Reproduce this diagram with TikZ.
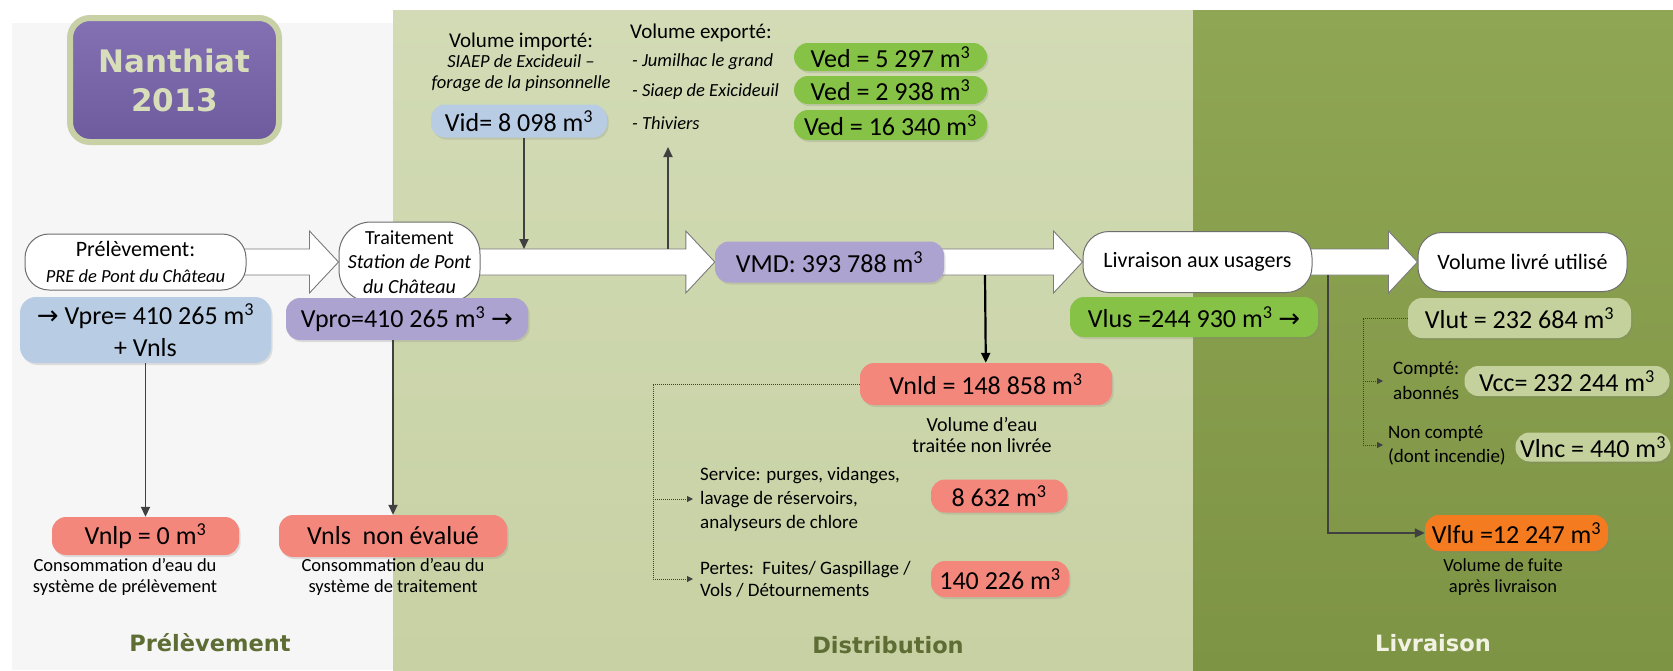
\documentclass[tikz,border=0pt]{standalone}
\usepackage{fontspec}
\setmainfont{Carlito}
\newfontfamily\headfont{DejaVu Sans}
\usetikzlibrary{calc, arrows.meta, shadows}

\definecolor{panelgray}{HTML}{F6F6F6}
\definecolor{distlight}{HTML}{D2DBB5}
\definecolor{distdark}{HTML}{C7D1A3}
\definecolor{livlight}{HTML}{8FA654}
\definecolor{livdark}{HTML}{7E9445}
\definecolor{titletop}{HTML}{8371B3}
\definecolor{titlebottom}{HTML}{6E5B9E}
\definecolor{titleedge}{HTML}{C8D0A6}
\definecolor{titletext}{HTML}{D8DDBA}
\definecolor{volblue}{HTML}{B8CCE4}
\definecolor{volpurple}{HTML}{ADA3D0}
\definecolor{volred}{HTML}{F4877C}
\definecolor{volgreen}{HTML}{86C246}
\definecolor{volpale}{HTML}{C4D19C}
\definecolor{volorange}{HTML}{F47B20}
\definecolor{labelolive}{HTML}{5E6D34}
\definecolor{zonelight}{HTML}{F2F2E4}
\definecolor{linegray}{HTML}{404040}
\definecolor{stageedge}{HTML}{6E6E6E}
\definecolor{pipeedge}{HTML}{7A7A7A}

\pgfdeclarelayer{panels}
\pgfdeclarelayer{pipes}
\pgfsetlayers{panels,pipes,main}

\newcommand{\mcube}{m\textsuperscript{3}}
\newcommand{\arr}{{\headfont →}}
\newcommand{\pipe}[2]{%
    \path[pipearrow] let \p1=(#1.east), \p2=(#2.west) in
        (\x1-8pt,\y1+13pt) -- (\x2-29pt,\y1+13pt) -- (\x2-29pt,\y1+31pt) -- (\x2,\y1)
        -- (\x2-29pt,\y1-31pt) -- (\x2-29pt,\y1-13pt) -- (\x1-8pt,\y1-13pt) -- cycle;}

\tikzset{
    stage/.style={draw=stageedge, fill=white, line width=1pt, rounded corners=24pt, inner sep=0pt, align=center, font=\fontsize{22}{26}\selectfont},
    vol/.style={rounded corners=14pt, inner sep=0pt, align=center, font=\fontsize{26}{31}\selectfont, drop shadow={opacity=0.22, shadow xshift=1.5pt, shadow yshift=-2pt}},
    blue vol/.style={vol, fill=volblue},
    purple vol/.style={vol, fill=volpurple},
    red vol/.style={vol, fill=volred},
    green vol/.style={vol, fill=volgreen},
    pale vol/.style={vol, fill=volpale},
    orange vol/.style={vol, fill=volorange},
    note/.style={inner sep=0pt, align=center, font=\fontsize{18.5}{21}\selectfont},
    side/.style={inner sep=0pt, align=left, anchor=west, font=\fontsize{19}{24}\selectfont},
    zone/.style={inner sep=0pt, font=\headfont\bfseries\fontsize{22.5}{26}\selectfont},
    flow/.style={draw=linegray, line width=1.8pt, -{Triangle[length=10pt,width=9pt]}},
    dotline/.style={draw=linegray, line width=1pt, densely dotted},
    dotflow/.style={dotline, -{Triangle[length=6pt,width=6pt]}},
    pipearrow/.style={draw=pipeedge, fill=white, line width=0.9pt}
}

\begin{document}
\begin{tikzpicture}[x=1pt, y=-1pt]
    \useasboundingbox (0,0) rectangle (1673,670);
    \begin{pgfonlayer}{panels}
        \fill[white] (0,0) rectangle (1673,670);
        \fill[panelgray] (12,23) rectangle (393,670);
        \shade[top color=distlight, bottom color=distdark] (393,10) rectangle (1193,670);
        \shade[top color=livlight, bottom color=livdark] (1193,10) rectangle (1673,670);
    \end{pgfonlayer}

    \node[draw=titleedge, line width=6pt, top color=titletop, bottom color=titlebottom, rounded corners=20pt, minimum width=209pt, minimum height=124pt, inner sep=0pt, align=center, text=titletext, font=\headfont\bfseries\fontsize{31}{39}\selectfont] (title) at (174.5,80) {Nanthiat\\2013};

    \node[stage, minimum width=221pt, minimum height=56pt] (pre) at (135.5,262) {Prélèvement:\\{\fontsize{18.5}{22}\selectfont\itshape PRE de Pont du Château}};
    \node[stage, rounded corners=32pt, minimum width=141pt, minimum height=80pt, font=\fontsize{20}{24.5}\selectfont] (trait) at (409.5,262) {Traitement\\\textit{Station de Pont}\\\textit{du Château}};
    \node[purple vol, minimum width=229pt, minimum height=41pt] (vmd) at (829.5,262) {VMD: 393 788 \mcube};
    \node[stage, rounded corners=26pt, minimum width=229pt, minimum height=61pt] (liv) at (1197.5,262) {Livraison aux usagers};
    \node[stage, minimum width=209pt, minimum height=59pt] (vlu) at (1522.5,262) {Volume livré utilisé};

    \begin{pgfonlayer}{pipes}
        \pipe{pre}{trait}
        \pipe{trait}{vmd}
        \pipe{vmd}{liv}
        \pipe{liv}{vlu}
    \end{pgfonlayer}

    \node[blue vol, rounded corners=16pt, minimum width=251pt, minimum height=66pt, font=\fontsize{26}{32}\selectfont] (vpre) at (145.5,330) {\arr\ Vpre= 410 265 \mcube\\+ Vnls};
    \node[purple vol, minimum width=242pt, minimum height=42pt] (vpro) at (407,319) {Vpro=410 265 \mcube\ \arr};
    \node[red vol, minimum width=187pt, minimum height=38pt] (vnlp) at (145.5,536) {Vnlp = 0 \mcube};
    \node[note] (nlplbl) at (125,577) {Consommation d’eau du\\système de prélèvement};
    \node[red vol, minimum width=228pt, minimum height=42pt] (vnls) at (393,536) {Vnls\ \ non évalué};
    \node[note] (nlslbl) at (393,577) {Consommation d’eau du\\système de traitement};

    \node[note, font=\fontsize{21}{20.5}\selectfont] (implbl) at (521,62) {Volume importé:\\{\fontsize{18.5}{20.5}\selectfont\itshape SIAEP de Excideuil –}\\{\fontsize{18.5}{20.5}\selectfont\itshape forage de la pinsonnelle}};
    \node[blue vol, minimum width=176pt, minimum height=33pt] (vid) at (519,121) {Vid= 8 098 \mcube};
    \node[side, font=\fontsize{21}{24}\selectfont] (explbl) at (630,33) {Volume exporté:};
    \node[side, font=\fontsize{18.5}{22}\selectfont\itshape] (exp1) at (632,62) {- Jumilhac le grand};
    \node[side, font=\fontsize{18.5}{22}\selectfont\itshape] (exp2) at (632,92) {- Siaep de Exicideuil};
    \node[side, font=\fontsize{18.5}{22}\selectfont\itshape] (exp3) at (632,123) {- Thiviers};
    \node[green vol, minimum width=193pt, minimum height=28pt] (ved1) at (890.5,57) {Ved = 5 297 \mcube};
    \node[green vol, minimum width=193pt, minimum height=28pt] (ved2) at (890.5,90) {Ved = 2 938 \mcube};
    \node[green vol, minimum width=193pt, minimum height=30pt] (ved3) at (890.5,125) {Ved = 16 340 \mcube};

    \node[red vol, minimum width=252pt, minimum height=42pt] (vnld) at (986,384) {Vnld = 148 858 \mcube};
    \node[note, font=\fontsize{20}{21}\selectfont] (nldlbl) at (982,435) {Volume d’eau\\traitée non livrée};
    \node[side] (service) at (700,499) {Service: purges, vidanges,\\lavage de réservoirs,\\analyseurs de chlore};
    \node[side, font=\fontsize{19}{22}\selectfont] (pertes) at (700,579) {Pertes:\ \ Fuites/ Gaspillage /\\Vols / Détournements};
    \node[red vol, minimum width=136pt, minimum height=33pt] (servicevol) at (999,496) {8 632 \mcube};
    \node[red vol, minimum width=138pt, minimum height=36pt] (pertesvol) at (1000,579) {140 226 \mcube};

    \node[green vol, minimum width=248pt, minimum height=40pt] (vlus) at (1194,317) {Vlus =244 930 \mcube\ \arr};
    \node[pale vol, minimum width=223pt, minimum height=40pt] (vlut) at (1519.5,318) {Vlut = 232 684 \mcube};
    \node[side, font=\fontsize{19}{25}\selectfont] (compte) at (1393,381) {Compté:\\abonnés};
    \node[pale vol, minimum width=205pt, minimum height=30pt] (vcc) at (1567,381) {Vcc= 232 244 \mcube};
    \node[side, font=\fontsize{19}{24}\selectfont] (noncompte) at (1388,445) {Non compté\\(dont incendie)};
    \node[pale vol, minimum width=155pt, minimum height=29pt] (vlnc) at (1593,447) {Vlnc = 440 \mcube};
    \node[orange vol, minimum width=183pt, minimum height=36pt] (vlfu) at (1516.5,533) {Vlfu =12 247 \mcube};
    \node[note] (lfulbl) at (1503,577) {Volume de fuite\\après livraison};

    \node[zone, text=labelolive] (zpre) at (210,643) {Prélèvement};
    \node[zone, text=labelolive] (zdist) at (888,645) {Distribution};
    \node[zone, text=zonelight] (zliv) at (1433,643) {Livraison};

    \coordinate (impend) at (524,249);
    \coordinate (expstart) at (668,249);
    \coordinate (expend) at (668,147);
    \coordinate (nldstart) at (985,275);
    \coordinate (fuitestart) at (1328,275);
    \draw[flow] (vid.south -| impend) -- (impend);
    \draw[flow] (expstart) -- (expend);
    \draw[flow, draw=black, line width=2.2pt] (nldstart) -- (vnld);
    \draw[flow] (vpre) -- (vnlp);
    \draw[flow] (vpro.south -| vnls.north) -- (vnls);
    \draw[flow] (fuitestart) |- (vlfu);

    \coordinate (nldfork) at (653,579);
    \draw[dotline] (vnld.west) -| (nldfork);
    \draw[dotflow] (service.west -| nldfork) -- ([xshift=-7pt]service.west);
    \draw[dotflow] (pertes.west -| nldfork) -- ([xshift=-7pt]pertes.west);
    \coordinate (lutfork) at (1363,447);
    \draw[dotline] (vlut.west) -| (lutfork);
    \draw[dotflow] (compte.west -| lutfork) -- ([xshift=-10pt]compte.west);
    \draw[dotflow] (noncompte.west -| lutfork) -- ([xshift=-5pt]noncompte.west);
\end{tikzpicture}
\end{document}
